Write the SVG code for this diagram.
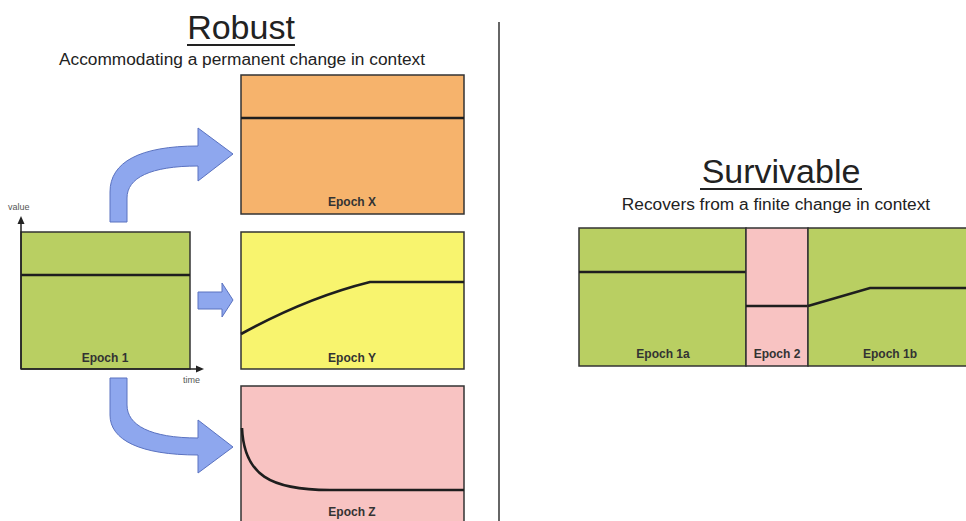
<svg xmlns="http://www.w3.org/2000/svg" width="966" height="521" viewBox="0 0 966 521">
  <style>
    .title { font-family: "Liberation Sans", Arial, sans-serif; font-size: 34px; fill: #222; text-anchor: middle; }
    .sub { font-family: "Liberation Sans", Arial, sans-serif; font-size: 17.3px; fill: #222; text-anchor: middle; }
    .lbl { font-family: "Liberation Sans", Arial, sans-serif; font-size: 12px; font-weight: bold; fill: #333; text-anchor: middle; }
    .axis-lbl { font-family: "Liberation Sans", Arial, sans-serif; font-size: 9px; fill: #555; }
    .box { stroke: #333; stroke-width: 1.5; }
    .green { fill: #b9cf62; }
    .orange { fill: #f6b36c; }
    .yellow { fill: #f8f46e; }
    .pink { fill: #f8c3c2; }
    .trace { fill: none; stroke: #1e1e1e; stroke-width: 2.6; }
    .arrow { fill: #8ea7ee; stroke: #5a72c0; stroke-width: 1; }
    .rule { stroke: #222; stroke-width: 2; }
  </style>

  <rect width="966" height="521" fill="#ffffff"/>

  <!-- Robust heading -->
  <g id="robust-heading">
    <text class="title" x="241" y="39">Robust</text>
    <line class="rule" x1="187" y1="45" x2="295" y2="45"/>
    <text class="sub" x="242" y="65">Accommodating a permanent change in context</text>
  </g>

  <!-- divider -->
  <line x1="499" y1="22" x2="499" y2="521" stroke="#333" stroke-width="1.5"/>

  <!-- Epoch 1 with axes -->
  <g id="epoch-1">
    <rect class="box green" x="21" y="232" width="169" height="137"/>
    <line class="trace" x1="21" y1="275" x2="190" y2="275"/>
    <text class="lbl" x="105" y="362">Epoch 1</text>
    <line x1="21" y1="369" x2="21" y2="222" stroke="#222" stroke-width="1.5"/>
    <polygon points="21,216 17.5,224 24.5,224" fill="#222"/>
    <line x1="21" y1="369" x2="198" y2="369" stroke="#222" stroke-width="1.5"/>
    <polygon points="204,369 196,365.5 196,372.5" fill="#222"/>
    <text class="axis-lbl" x="8" y="210">value</text>
    <text class="axis-lbl" x="183" y="383">time</text>
  </g>

  <!-- Epoch X -->
  <g id="epoch-x">
    <rect class="box orange" x="241" y="75" width="223" height="139"/>
    <line class="trace" x1="241" y1="118" x2="464" y2="118"/>
    <text class="lbl" x="352" y="206">Epoch X</text>
  </g>

  <!-- Epoch Y -->
  <g id="epoch-y">
    <rect class="box yellow" x="241" y="232" width="223" height="137"/>
    <path class="trace" d="M241,334 C290,307 330,292 370,282 L464,282"/>
    <text class="lbl" x="352" y="362">Epoch Y</text>
  </g>

  <!-- Epoch Z -->
  <g id="epoch-z">
    <rect class="box pink" x="241" y="386" width="223" height="145"/>
    <path class="trace" d="M242,428 C244,475 270,490 330,490 L464,490"/>
    <text class="lbl" x="352" y="516">Epoch Z</text>
  </g>

  <!-- transitions out of Epoch 1 -->
  <g id="connectors">
    <path class="arrow" d="M110,222 L110,192 C110,162 140,146 198,146 L198,128 L233,154 L198,181 L198,166 C150,166 127,178 127,198 L127,222 Z"/>
    <path class="arrow" d="M198,292 L222,292 L222,283 L233,300 L222,317 L222,309 L198,309 Z"/>
    <path class="arrow" d="M110,378 L127,378 L127,405 C127,425 150,438 198,438 L198,420 L233,447 L198,473 L198,455 C140,455 110,440 110,415 Z"/>
  </g>

  <!-- Survivable heading -->
  <g id="survivable-heading">
    <text class="title" x="781" y="183">Survivable</text>
    <line class="rule" x1="700" y1="189" x2="862" y2="189"/>
    <text class="sub" x="776" y="210">Recovers from a finite change in context</text>
  </g>

  <!-- Survivable timeline -->
  <g id="epoch-1a">
    <rect class="box green" x="579" y="228" width="167" height="138"/>
    <line class="trace" x1="579" y1="272" x2="746" y2="272"/>
    <text class="lbl" x="663" y="358">Epoch 1a</text>
  </g>
  <g id="epoch-2">
    <rect class="box pink" x="746" y="228" width="62" height="138"/>
    <line class="trace" x1="746" y1="306" x2="808" y2="306"/>
    <text class="lbl" x="777" y="358">Epoch 2</text>
  </g>
  <g id="epoch-1b">
    <rect class="box green" x="808" y="228" width="170" height="138"/>
    <path class="trace" d="M808,306 L870,288 L970,288"/>
    <text class="lbl" x="890" y="358">Epoch 1b</text>
  </g>
</svg>
